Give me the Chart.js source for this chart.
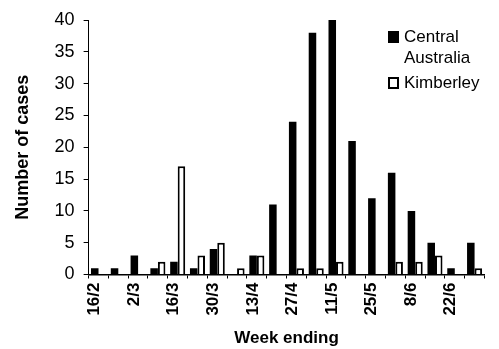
<!DOCTYPE html>
<html>
<head>
<meta charset="utf-8">
<script src="https://cdn.jsdelivr.net/npm/chart.js@4.4.0/dist/chart.umd.min.js"></script>
<style>
  html, body { margin: 0; padding: 0; background: #fff; }
  #wrap { width: 499px; height: 349px; position: relative; }
</style>
</head>
<body>
<div id="wrap"><canvas id="chart"></canvas></div>
<script>
// week ending dates (only every second one is labelled on the axis)
const weeks = ["16/2", "23/2", "2/3", "9/3", "16/3", "23/3", "30/3", "6/4", "13/4", "20/4",
               "27/4", "4/5", "11/5", "18/5", "25/5", "1/6", "8/6", "15/6", "22/6", "29/6"];
const centralAustralia = [1, 1, 3, 1, 2, 1, 4, 0, 3, 11, 24, 38, 40, 21, 12, 16, 10, 5, 1, 5];
const kimberley = [0, 0, 0, 2, 17, 3, 5, 1, 3, 0, 1, 1, 2, 0, 0, 2, 2, 3, 0, 1];
const yMax = 40;
const yStep = 5;

const FONT = "'Liberation Sans', Arial, sans-serif";

// legend drawn by hand so "Central Australia" can wrap onto two lines
const boxLegend = {
    id: "boxLegend",
    afterDraw(chart) {
        const ctx = chart.ctx;
        const items = [
            { lines: ["Central", "Australia"], fill: "#000" },
            { lines: ["Kimberley"], fill: "#fff" }
        ];
        let x = 389, y = 32;
        ctx.save();
        ctx.font = "17px " + FONT;
        ctx.textBaseline = "middle";
        items.forEach(function (item) {
            ctx.fillStyle = item.fill;
            ctx.strokeStyle = "#000";
            ctx.lineWidth = 2;
            ctx.fillRect(x, y, 9, 10);
            ctx.strokeRect(x, y, 9, 10);
            ctx.fillStyle = "#000";
            item.lines.forEach(function (t, i) {
                ctx.fillText(t, x + 15, y + 5 + i * 21);
            });
            y += item.lines.length * 23;
        });
        ctx.restore();
    }
};

new Chart(document.getElementById("chart"), {
    type: "bar",
    data: {
        labels: weeks,
        datasets: [
            {
                label: "Central Australia",
                data: centralAustralia,
                backgroundColor: "#000",
                borderColor: "#000",
                borderWidth: 0,
                barPercentage: 1,
                categoryPercentage: 0.76
            },
            {
                label: "Kimberley",
                data: kimberley,
                backgroundColor: "#fff",
                borderColor: "#000",
                borderWidth: 2,
                barPercentage: 1,
                categoryPercentage: 0.76
            }
        ]
    },
    options: {
        responsive: true,
        maintainAspectRatio: false,
        animation: false,
        layout: { padding: { top: 20, right: 1, left: 12, bottom: 0 } },
        plugins: {
            legend: { display: false },
            tooltip: { enabled: false }
        },
        scales: {
            x: {
                grid: {
                    display: true,
                    drawOnChartArea: false,
                    drawTicks: true,
                    tickLength: 4,
                    color: "#000",
                    offset: true
                },
                border: { display: true, color: "#000", width: 1.5 },
                ticks: {
                    autoSkip: false,
                    maxRotation: 90,
                    minRotation: 90,
                    labelOffset: -4,
                    padding: 4,
                    color: "#000",
                    font: { family: FONT, size: 17, weight: "bold" },
                    callback: function (value, index) {
                        return index % 2 === 0 ? weeks[index] : "";
                    }
                },
                title: {
                    display: true,
                    text: "Week ending",
                    color: "#000",
                    padding: { top: 9, bottom: 0 },
                    font: { family: FONT, size: 17, weight: "bold" }
                }
            },
            y: {
                min: 0,
                max: yMax,
                grid: {
                    display: true,
                    drawOnChartArea: false,
                    drawTicks: true,
                    tickLength: 5,
                    color: "#000"
                },
                border: { display: true, color: "#000", width: 1 },
                ticks: {
                    stepSize: yStep,
                    padding: 9,
                    color: "#000",
                    font: { family: FONT, size: 18 }
                },
                title: {
                    display: true,
                    text: "Number of cases",
                    color: "#000",
                    padding: { top: 0, bottom: 12 },
                    font: { family: FONT, size: 18, weight: "bold" }
                }
            }
        }
    },
    plugins: [boxLegend]
});
</script>
</body>
</html>
